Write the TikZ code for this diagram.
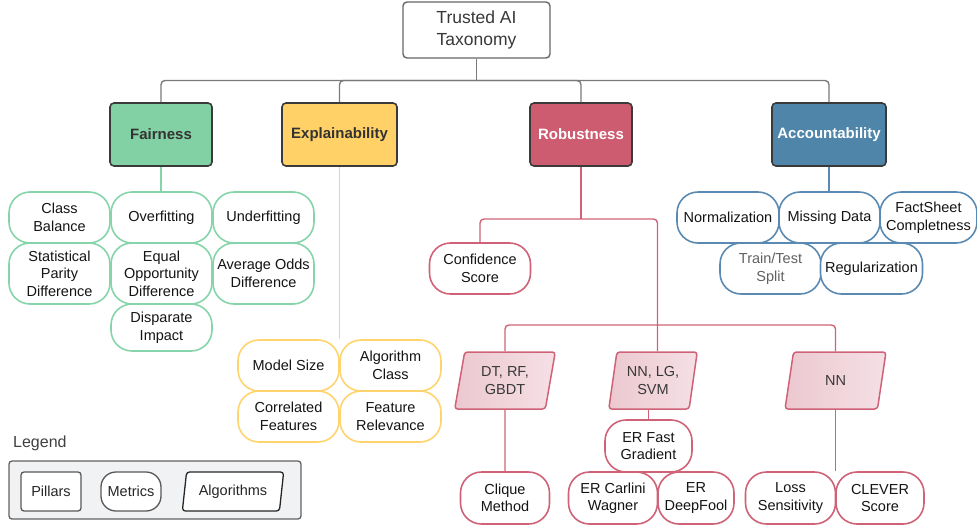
\documentclass[tikz,border=0pt]{standalone}
\usepackage{fontspec}
\setmainfont{Liberation Sans}
\usetikzlibrary{shapes.geometric}
\definecolor{fairfill}{HTML}{82D1A5}
\definecolor{fairline}{HTML}{86D4A9}
\definecolor{explfill}{HTML}{FFD166}
\definecolor{explline}{HTML}{FFD46E}
\definecolor{robfill}{HTML}{CD5C71}
\definecolor{robline}{HTML}{CF6277}
\definecolor{algL}{HTML}{ECC8D0}
\definecolor{algR}{HTML}{F5E0E5}
\definecolor{accfill}{HTML}{5085AA}
\definecolor{accline}{HTML}{5A8AB1}
\definecolor{graylink}{HTML}{7A7A7A}
\definecolor{pillarline}{HTML}{3A3A3A}
\definecolor{legfill}{HTML}{F1F2F4}
\newcommand\fmet{\fontsize{14.5}{17.5}\selectfont}
\tikzset{
  sz/.style 2 args={minimum width=#1, minimum height=#2},
  pillar/.style={draw=pillarline, line width=1.6pt, rounded corners=4pt, inner sep=0pt,
    font=\fontsize{15}{18}\selectfont\bfseries, text=black!80},
  metric/.style={draw, fill=white, line width=1.6pt, rounded corners=21pt, inner sep=0pt,
    align=center, font=\fmet, text=black!92},
  algo/.style={trapezium, trapezium left angle=78, trapezium right angle=102,
    trapezium stretches=true, draw=robline, left color=algL, right color=algR,
    line width=1.5pt, rounded corners=3pt, inner sep=0pt, align=center,
    font=\fmet, text=black!78},
  link/.style={line width=1.4pt, rounded corners=4pt},
}
\begin{document}
\begin{tikzpicture}[x=1pt,y=-1pt]
\useasboundingbox (0,0) rectangle (977,525);

% root
\node[draw=black!60, line width=1.4pt, rounded corners=4pt, sz={147pt}{56pt}, align=center,
  font=\fontsize{17.5}{22}\selectfont, text=black!78] (root) at (476.5,30) {Trusted AI\\Taxonomy};

% pillars
\node[pillar, fill=fairfill, sz={102pt}{63pt}] (fair) at (161,134.5) {Fairness};
\node[pillar, fill=explfill, sz={115pt}{63pt}] (expl) at (339.5,134.5) {Explainability};
\node[pillar, fill=robfill, sz={102pt}{63pt}, text=white] (rob) at (581,134.5) {Robustness};
\node[pillar, fill=accfill, sz={114pt}{63pt}, text=white] (acc) at (829,134.5) {Accountability};

% top connectors
\coordinate (tj) at (476.5,80.5);
\draw[link, draw=graylink] (root.south) -- (tj);
\draw[link, draw=graylink] (tj) -| (fair.north);
\draw[link, draw=graylink] (tj) -| (expl.north);
\draw[link, draw=graylink] (tj) -| (rob.north);
\draw[link, draw=graylink] (tj) -| (acc.north);

% fairness metrics
\node[metric, draw=fairline, sz={101pt}{51pt}] (cb) at (59.5,217.5) {Class\\Balance};
\node[metric, draw=fairline, sz={101pt}{51pt}] (of) at (161.5,217.5) {Overfitting};
\node[metric, draw=fairline, sz={101pt}{51pt}] (uf) at (263.5,217.5) {Underfitting};
\node[metric, draw=fairline, sz={101pt}{61pt}] (spd) at (59.5,273.5) {Statistical\\Parity\\Difference};
\node[metric, draw=fairline, sz={101pt}{61pt}] (eod) at (161.5,273.5) {Equal\\Opportunity\\Difference};
\node[metric, draw=fairline, sz={101pt}{61pt}] (aod) at (263.5,273.5) {Average Odds\\Difference};
\node[metric, draw=fairline, sz={101pt}{47pt}] (di) at (161.5,327.5) {Disparate\\Impact};
\draw[link, draw=fairline] (fair.south) -- (fair.south |- of.north);

% explainability metrics
\node[metric, draw=explline, sz={101pt}{51pt}] (ms) at (288.5,365.5) {Model Size};
\node[metric, draw=explline, sz={101pt}{51pt}] (ac) at (390.5,365.5) {Algorithm\\Class};
\node[metric, draw=explline, sz={101pt}{51pt}] (cf) at (288.5,416.5) {Correlated\\Features};
\node[metric, draw=explline, sz={101pt}{51pt}] (fr) at (390.5,416.5) {Feature\\Relevance};
\draw[link, draw=explline] (expl.south) -- (expl.south |- ms.north);

% accountability metrics
\node[metric, draw=accline, sz={102pt}{51pt}] (nor) at (728,217.5) {Normalization};
\node[metric, draw=accline, sz={101pt}{51pt}] (md) at (829.5,217.5) {Missing Data};
\node[metric, draw=accline, sz={97pt}{51pt}] (fs) at (928.5,217.5) {FactSheet\\Completness};
\node[metric, draw=accline, sz={101pt}{51pt}, text=black!62] (tts) at (770.5,268.5) {Train/Test\\Split};
\node[metric, draw=accline, sz={102pt}{51pt}] (reg) at (871.5,268.5) {Regularization};
\draw[link, draw=accline] (acc.south) -- (acc.south |- md.north);

% robustness
\node[metric, draw=robline, sz={101pt}{51pt}] (cs) at (480,268.5) {Confidence\\Score};
\node[algo, sz={101pt}{57pt}] (dt) at (505,380.5) {DT, RF,\\GBDT};
\node[algo, sz={89pt}{57pt}] (nnlg) at (653,380.5) {NN, LG,\\SVM};
\node[algo, sz={101pt}{57pt}] (nn) at (835.5,380.5) {NN};
\node[metric, draw=robline, sz={87pt}{52pt}] (erfg) at (648.5,446) {ER Fast\\Gradient};
\node[metric, draw=robline, sz={89pt}{52pt}] (cq) at (505,498) {Clique\\Method};
\node[metric, draw=robline, sz={89pt}{52pt}] (ercw) at (613,498) {ER Carlini\\Wagner};
\node[metric, draw=robline, sz={76pt}{52pt}] (erdf) at (696,498) {ER\\DeepFool};
\node[metric, draw=robline, sz={90pt}{52pt}] (ls) at (790.5,498) {Loss\\Sensitivity};
\node[metric, draw=robline, sz={88pt}{52pt}] (clv) at (880,498) {CLEVER\\Score};

\coordinate (rj) at (581,219);
\coordinate (rr) at (657.5,219);
\coordinate (hj) at (657.5,325);
\draw[link, draw=robline] (rob.south) -- (rj);
\draw[link, draw=robline] (rj) -| (cs.north);
\draw[link, draw=robline] (rj) -| (rr |- nnlg.north);
\draw[link, draw=robline] (hj) -| (dt.north);
\draw[link, draw=robline] (hj) -| (nn.north);
\draw[link, draw=robline] (erfg.north |- nnlg.south) -- (erfg.north);
\draw[link, draw=robline] (dt.south) -- (cq.north);
\draw[link, draw=robline] (nn.south) -- (nn.south |- ls.north);

% legend
\node[anchor=west, font=\fontsize{16}{19}\selectfont, text=black!75, inner sep=0pt] (legt) at (13,443) {Legend};
\node[draw=black!62, fill=legfill, line width=1.3pt, rounded corners=3pt, sz={292pt}{58pt}] (legbox) at (155,490) {};
\node[draw=black!65, fill=white, line width=1.3pt, rounded corners=3pt, sz={60pt}{39pt},
  inner sep=0pt, font=\fmet, text=black!85] (lp) at (51,491.5) {Pillars};
\node[draw=black!65, fill=white, line width=1.3pt, rounded corners=15pt, sz={60pt}{39pt},
  inner sep=0pt, font=\fmet, text=black!85] (lm) at (131,491.5) {Metrics};
\node[trapezium, trapezium left angle=77, trapezium right angle=103, trapezium stretches=true,
  draw=black!85, fill=white, line width=1.3pt, rounded corners=3pt, sz={102pt}{39pt},
  inner sep=0pt, font=\fmet, text=black!85] (la) at (233,491.5) {Algorithms};
\end{tikzpicture}
\end{document}
